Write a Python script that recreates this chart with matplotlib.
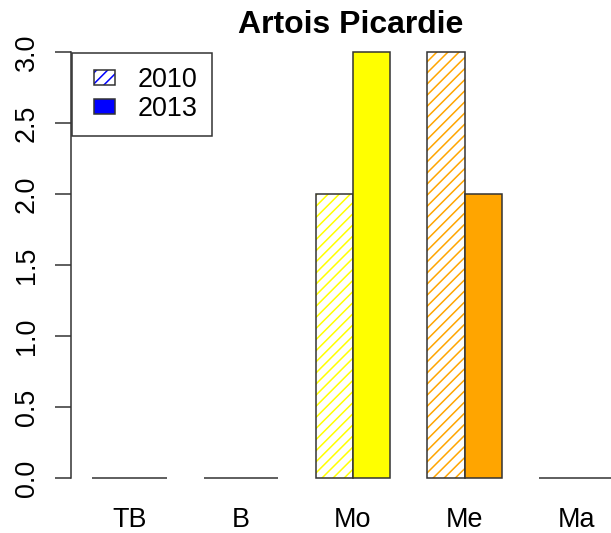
import numpy as np
import matplotlib
matplotlib.use("Agg")
import matplotlib.pyplot as plt
from matplotlib.patches import Patch, Rectangle
from matplotlib.legend_handler import HandlerBase

plt.rcParams.update({
    "font.family": ["Liberation Sans", "DejaVu Sans"],
    "hatch.linewidth": 1.1,
})

categories = ["TB", "B", "Mo", "Me", "Ma"]
vals_2010 = [0, 0, 2, 3, 0]
vals_2013 = [0, 0, 3, 2, 0]
bar_colors = ["#0000FF", "#00CD00", "#FFFF00", "#FFA500", "#FF0000"]
years = ["2010", "2013"]
yticks = [0.0, 0.5, 1.0, 1.5, 2.0, 2.5, 3.0]

EDGE = "#333333"
FS = 19.4
W, H = 611, 533
fig = plt.figure(figsize=(W / 100, H / 100), dpi=100)
# R barplot region, right part runs past the picture edge
ax = fig.add_axes([71.2 / W, 1 - 495 / H, (634.4 - 71.2) / W, (495 - 35) / H])

# beside=TRUE, space=c(0,1): bar width 1, one bar gap between groups
x0 = 1.5 + 3 * np.arange(len(categories))
x1 = x0 + 1.0
for xs, vs, hatched in [(x0, vals_2010, True), (x1, vals_2013, False)]:
    if hatched:
        ax.bar(xs, vs, width=1.0, facecolor="white", edgecolor=bar_colors,
               hatch="///", linewidth=0, zorder=2)
        ax.bar(xs, vs, width=1.0, fill=False, edgecolor=EDGE, linewidth=1.1, zorder=3)
    else:
        ax.bar(xs, vs, width=1.0, color=bar_colors, edgecolor=EDGE, linewidth=1.1, zorder=3)

ax.set_xlim(0.44, 15.56)
ax.set_ylim(-0.12, 3.12)
for s in ("top", "right", "bottom"):
    ax.spines[s].set_visible(False)
ax.spines["left"].set_bounds(0, 3)
ax.spines["left"].set_linewidth(1.1)
ax.spines["left"].set_color(EDGE)

ax.set_yticks(yticks)
ax.set_yticklabels([f"{v:.1f}" for v in yticks], rotation=90, va="center")
ax.tick_params(axis="y", length=11.5, width=1.1, color=EDGE, pad=11, labelsize=FS)
ax.set_xticks((x0 + x1) / 2)
ax.set_xticklabels(categories)
ax.tick_params(axis="x", length=0, pad=8.5, labelsize=FS)

fig.text(351 / W, 1 - 33 / H, "Artois Picardie", fontsize=23, fontweight="bold",
         ha="center", va="baseline")


class BoxHandler(HandlerBase):
    def create_artists(self, legend, orig_handle, xdescent, ydescent,
                       width, height, fontsize, trans):
        off = 6.1
        x, y = -xdescent + off, -ydescent
        arts = []
        if orig_handle.get_hatch():
            arts.append(Rectangle((x, y), width - off, height, facecolor="white",
                                  edgecolor=orig_handle.get_edgecolor(),
                                  hatch=orig_handle.get_hatch(), linewidth=0,
                                  transform=trans))
        else:
            arts.append(Rectangle((x, y), width - off, height,
                                  facecolor=orig_handle.get_facecolor(),
                                  linewidth=0, transform=trans))
        arts.append(Rectangle((x, y), width - off, height, fill=False,
                              edgecolor=EDGE, linewidth=1.1, transform=trans))
        return arts


handles = [Patch(facecolor="white", edgecolor="#0000FF", hatch="///"),
           Patch(facecolor="#0000FF")]
leg = fig.legend(handles, years, loc="upper left",
                 bbox_to_anchor=(72 / W, 1 - 53 / H), borderaxespad=0,
                 fontsize=FS, handler_map={Patch: BoxHandler()},
                 handlelength=1.06, handleheight=0.52, handletextpad=0.86,
                 labelspacing=0.11, borderpad=0.52,
                 fancybox=False, framealpha=1, edgecolor=EDGE)
leg.get_frame().set_linewidth(1.1)

fig.savefig("out.png", dpi=100)
